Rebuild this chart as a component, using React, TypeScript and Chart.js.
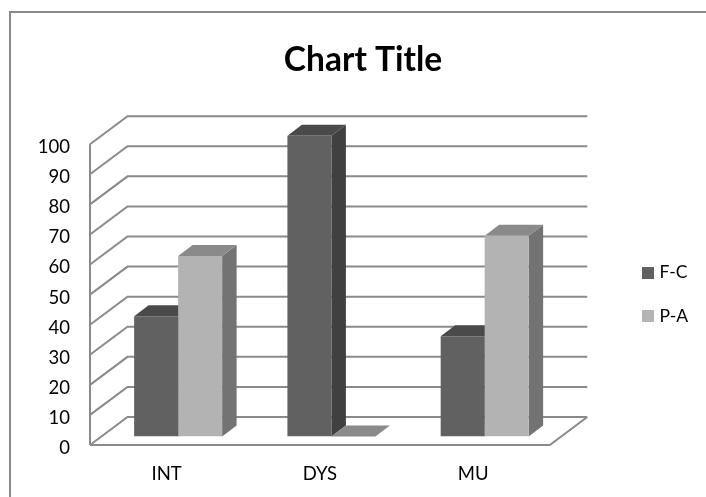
import React, { useEffect, useRef } from "react";
import { Chart, registerables } from "chart.js";

Chart.register(...registerables);

const categories = ["INT", "DYS", "MU"];
const seriesNames = ["F-C", "P-A"];
const fcValues = [40, 100, 33.3];
const paValues = [60, 0, 66.7];
const yTicks = [0, 10, 20, 30, 40, 50, 60, 70, 80, 90, 100];

const frontColors = ["#616161", "#b3b3b3"];
const topColors = ["#4a4a4a", "#8a8a8a"];
const sideColors = ["#404040", "#737373"];
const lineColor = "#8a8a8a";
const fontFamily = "Lato, 'Open Sans', sans-serif";

// Depth of the wall/floor box and of each column, in pixels.
const wallDepth = { dx: 37.5, dy: -28 };
const barDepth = { dx: 14.5, dy: -11 };
const barOffset = { dx: 11.5, dy: -8.5 };

function poly(ctx: CanvasRenderingContext2D, pts: number[][], fill: string) {
  ctx.beginPath();
  pts.forEach(([x, y], i) => (i ? ctx.lineTo(x, y) : ctx.moveTo(x, y)));
  ctx.closePath();
  ctx.fillStyle = fill;
  ctx.fill();
}

// Square legend marker, wider than the slot the legend reserves for it so the label sits close.
function swatch(color: string) {
  const c = document.createElement("canvas");
  c.width = 12;
  c.height = 12;
  const g = c.getContext("2d")!;
  g.fillStyle = color;
  g.fillRect(0, 0, 12, 12);
  return c;
}

// Draws the outer frame, the 3D walls and floor, and the depth faces of the columns.
const box3d = {
  id: "box3d",
  beforeDatasetsDraw(chart: any) {
    const { ctx, chartArea: a, scales } = chart;
    const y = scales.y;
    ctx.save();
    ctx.strokeStyle = lineColor;
    ctx.lineWidth = 2;

    ctx.beginPath();
    ctx.moveTo(10, chart.height);
    ctx.lineTo(10, 12);
    ctx.lineTo(chart.width, 12);
    ctx.stroke();

    ctx.beginPath();
    ctx.moveTo(a.left, y.getPixelForValue(0));
    ctx.lineTo(a.left, y.getPixelForValue(100));
    yTicks.forEach((v) => {
      const py = y.getPixelForValue(v);
      ctx.moveTo(a.left, py);
      ctx.lineTo(a.left + wallDepth.dx, py + wallDepth.dy);
      ctx.lineTo(a.right + wallDepth.dx, py + wallDepth.dy);
    });
    const floor = y.getPixelForValue(0);
    ctx.moveTo(a.left, floor);
    ctx.lineTo(a.right, floor);
    ctx.lineTo(a.right + wallDepth.dx, floor + wallDepth.dy);
    ctx.stroke();

    chart.data.datasets.forEach((_: any, i: number) => {
      chart.getDatasetMeta(i).data.forEach((bar: any) => {
        const l = bar.x - bar.width / 2 + barOffset.dx;
        const r = bar.x + bar.width / 2 + barOffset.dx;
        const t = bar.y + barOffset.dy;
        const b = bar.base + barOffset.dy;
        const { dx, dy } = barDepth;
        poly(ctx, [[r, t], [r + dx, t + dy], [r + dx, b + dy], [r, b]], sideColors[i]);
        poly(ctx, [[l, t], [l + dx, t + dy], [r + dx, t + dy], [r, t]], topColors[i]);
      });
    });
    ctx.restore();
  },
  // The front faces sit forward of the axis plane, inside the floor.
  beforeDatasetDraw(chart: any) {
    chart.ctx.save();
    chart.ctx.translate(barOffset.dx, barOffset.dy);
  },
  afterDatasetDraw(chart: any) {
    chart.ctx.restore();
  },
};

export default function App() {
  const ref = useRef<HTMLCanvasElement>(null);
  useEffect(() => {
    document.body.style.margin = "0";
    const swatches = frontColors.map(swatch);
    const chart = new Chart(ref.current!, {
      type: "bar",
      plugins: [box3d],
      data: {
        labels: categories,
        datasets: [
          { label: seriesNames[0], data: fcValues, backgroundColor: frontColors[0] },
          { label: seriesNames[1], data: paValues, backgroundColor: frontColors[1] },
        ],
      },
      options: {
        responsive: false,
        animation: false,
        layout: { padding: { left: 28, right: 8, top: 40, bottom: 0 } },
        datasets: { bar: { barPercentage: 1, categoryPercentage: 0.574 } },
        plugins: {
          tooltip: { enabled: false },
          title: {
            display: true,
            text: "Chart Title",
            color: "#000",
            font: { family: fontFamily, size: 33.5, weight: "bold", lineHeight: 1.2 },
            padding: { top: 0, bottom: 64 },
          },
          legend: {
            position: "right",
            fullSize: false,
            labels: {
              usePointStyle: true,
              pointStyleWidth: 6,
              boxHeight: 12,
              padding: 26,
              color: "#000",
              font: { family: fontFamily, size: 17.5 },
              generateLabels: (c: any) =>
                Chart.defaults.plugins.legend.labels
                  .generateLabels(c)
                  .map((item: any, i: number) => ({ ...item, pointStyle: swatches[i] })),
            },
          },
        },
        scales: {
          x: {
            grid: { display: false },
            border: { display: false },
            ticks: { color: "#000", padding: 10, maxRotation: 0, font: { family: fontFamily, size: 18.5 } },
            afterFit: (s: any) => { s.height = 52; },
          },
          y: {
            min: 0,
            max: 100,
            grid: { display: false },
            border: { display: false },
            ticks: { stepSize: 10, color: "#000", padding: 12, labelOffset: 3, font: { family: fontFamily, size: 18.5 } },
            afterFit: (s: any) => { s.width = 62; },
          },
          // Keeps the gap between the floor and the legend.
          gap: {
            position: "right",
            display: true,
            grid: { display: false },
            border: { display: false },
            ticks: { display: false },
            afterFit: (s: any) => { s.width = 69; },
          },
        },
      },
    } as any);
    return () => chart.destroy();
  }, []);
  return <canvas ref={ref} width={706} height={497} style={{ display: "block" }} />;
}
